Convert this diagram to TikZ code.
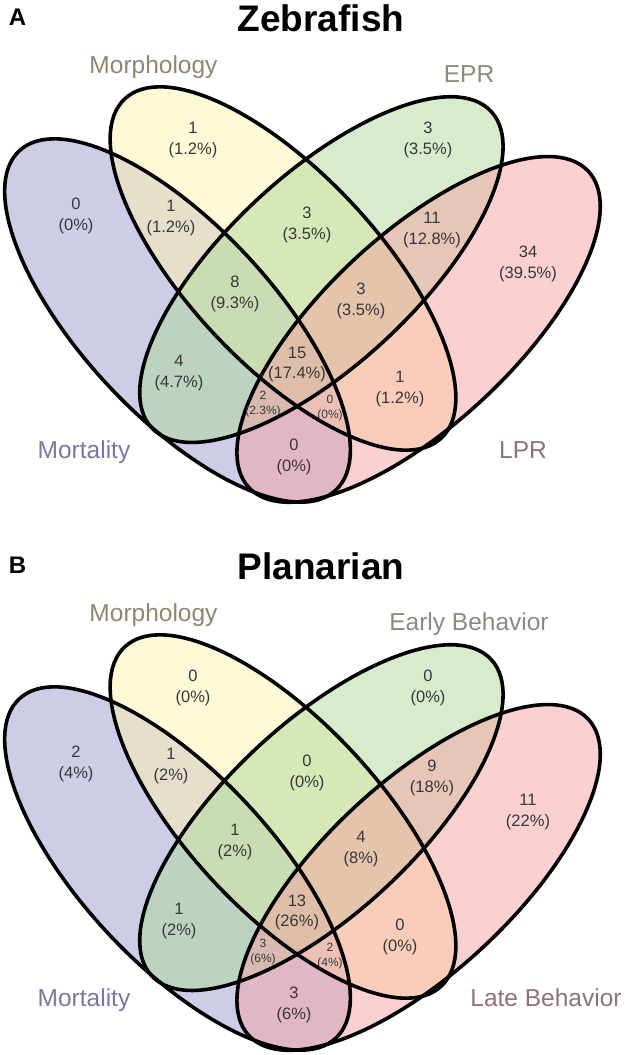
\documentclass[tikz,border=0pt]{standalone}
\usepackage{fontspec}
\setmainfont{Liberation Sans}
\definecolor{mortfill}{RGB}{155,155,209}
\definecolor{morphfill}{RGB}{255,243,175}
\definecolor{eprfill}{RGB}{173,217,155}
\definecolor{lprfill}{RGB}{245,161,161}
\definecolor{mortcol}{RGB}{120,120,160}
\definecolor{morphcol}{RGB}{140,135,110}
\definecolor{eprcol}{RGB}{135,140,125}
\definecolor{lprcol}{RGB}{140,115,120}
\definecolor{numgray}{RGB}{55,55,55}
\tikzset{
  num/.style={align=center,inner sep=0pt,text=numgray,font=\fontsize{16.5}{20.5}\selectfont},
  smallnum/.style={num,font=\fontsize{12}{14.3}\selectfont},
  setlabel/.style={anchor=base,inner sep=0pt,font=\fontsize{24.5}{28}\selectfont},
  paneltitle/.style={anchor=base,inner sep=0pt,font=\fontsize{37}{40}\selectfont\bfseries},
  panelletter/.style={anchor=base,inner sep=0pt,font=\fontsize{24}{28}\selectfont\bfseries},
  venn/.style={line width=3.6pt}
}
\begin{document}
\begin{tikzpicture}[x=1pt,y=-1pt]
		\useasboundingbox (0,0) rectangle (633,1055);
		% ellipses, same for both panels
		\foreach \dy in {0,548}{
			\begin{scope}[shift={(0,\dy)}]
			\foreach \cx/\cy/\rot/\col in {177.5/320.5/-47/mortfill,283/268.5/-47/morphfill,321.4/269.6/43/eprfill,418.6/329.4/43/lprfill}
			\fill[\col,fill opacity=0.5,rotate around={\rot:(\cx,\cy)}] (\cx,\cy) ellipse [x radius=232,y radius=95];
			\foreach \cx/\cy/\rot in {177.5/320.5/-47,283/268.5/-47,321.4/269.6/43,418.6/329.4/43}
			\draw[venn,rotate around={\rot:(\cx,\cy)}] (\cx,\cy) ellipse [x radius=232,y radius=95];
			\end{scope}
		}
		% Panel A
		\node[panelletter] (a-letter) at (17.5,25) {A};
		\node[paneltitle] (a-title) at (321,31.5) {Zebrafish};
		\node[setlabel,text=morphcol] (a-morph) at (153.5,73) {Morphology};
		\node[setlabel,text=eprcol] (a-epr) at (469,82) {EPR};
		\node[setlabel,text=mortcol] (a-mort) at (84,458) {Mortality};
		\node[setlabel,text=lprcol] (a-lpr) at (523,458) {LPR};
		\foreach \x/\y/\n/\p [count=\i] in {76/216/0/0,193/140/1/1.2,428/140/3/3.5,528/264/34/39.5,171/218/1/1.2,307/225/3/3.5,432/230/11/12.8,235/294/8/9.3,361/301/3/3.5,179/373/4/4.7,297/364.5/15/17.4,400/389/1/1.2,294/457/0/0}
		\node[num] (a-n\i) at (\x,\y) {\n\\(\p\%)};
		\node[smallnum] (a-s1) at (263,404) {2\\(2.3\%)};
		\node[smallnum] (a-s2) at (330,408) {0\\(0\%)};
		% Panel B
		\begin{scope}[shift={(0,548)}]
		\node[panelletter] (b-letter) at (17.5,25) {B};
		\node[paneltitle] (b-title) at (321,31.5) {Planarian};
		\node[setlabel,text=morphcol] (b-morph) at (153.5,73) {Morphology};
		\node[setlabel,text=eprcol] (b-epr) at (469,82) {Early Behavior};
		\node[setlabel,text=mortcol] (b-mort) at (84,458) {Mortality};
		\node[setlabel,text=lprcol] (b-lpr) at (546,458) {Late Behavior};
		\foreach \x/\y/\n/\p [count=\i] in {76/216/2/4,193/140/0/0,428/140/0/0,528/264/11/22,171/218/1/2,307/225/0/0,432/230/9/18,235/294/1/2,361/301/4/8,179/373/1/2,297/364.5/13/26,400/389/0/0,294/457/3/6}
		\node[num] (b-n\i) at (\x,\y) {\n\\(\p\%)};
		\node[smallnum] (b-s1) at (263,404) {3\\(6\%)};
		\node[smallnum] (b-s2) at (330,408) {2\\(4\%)};
		\end{scope}
\end{tikzpicture}
\end{document}
